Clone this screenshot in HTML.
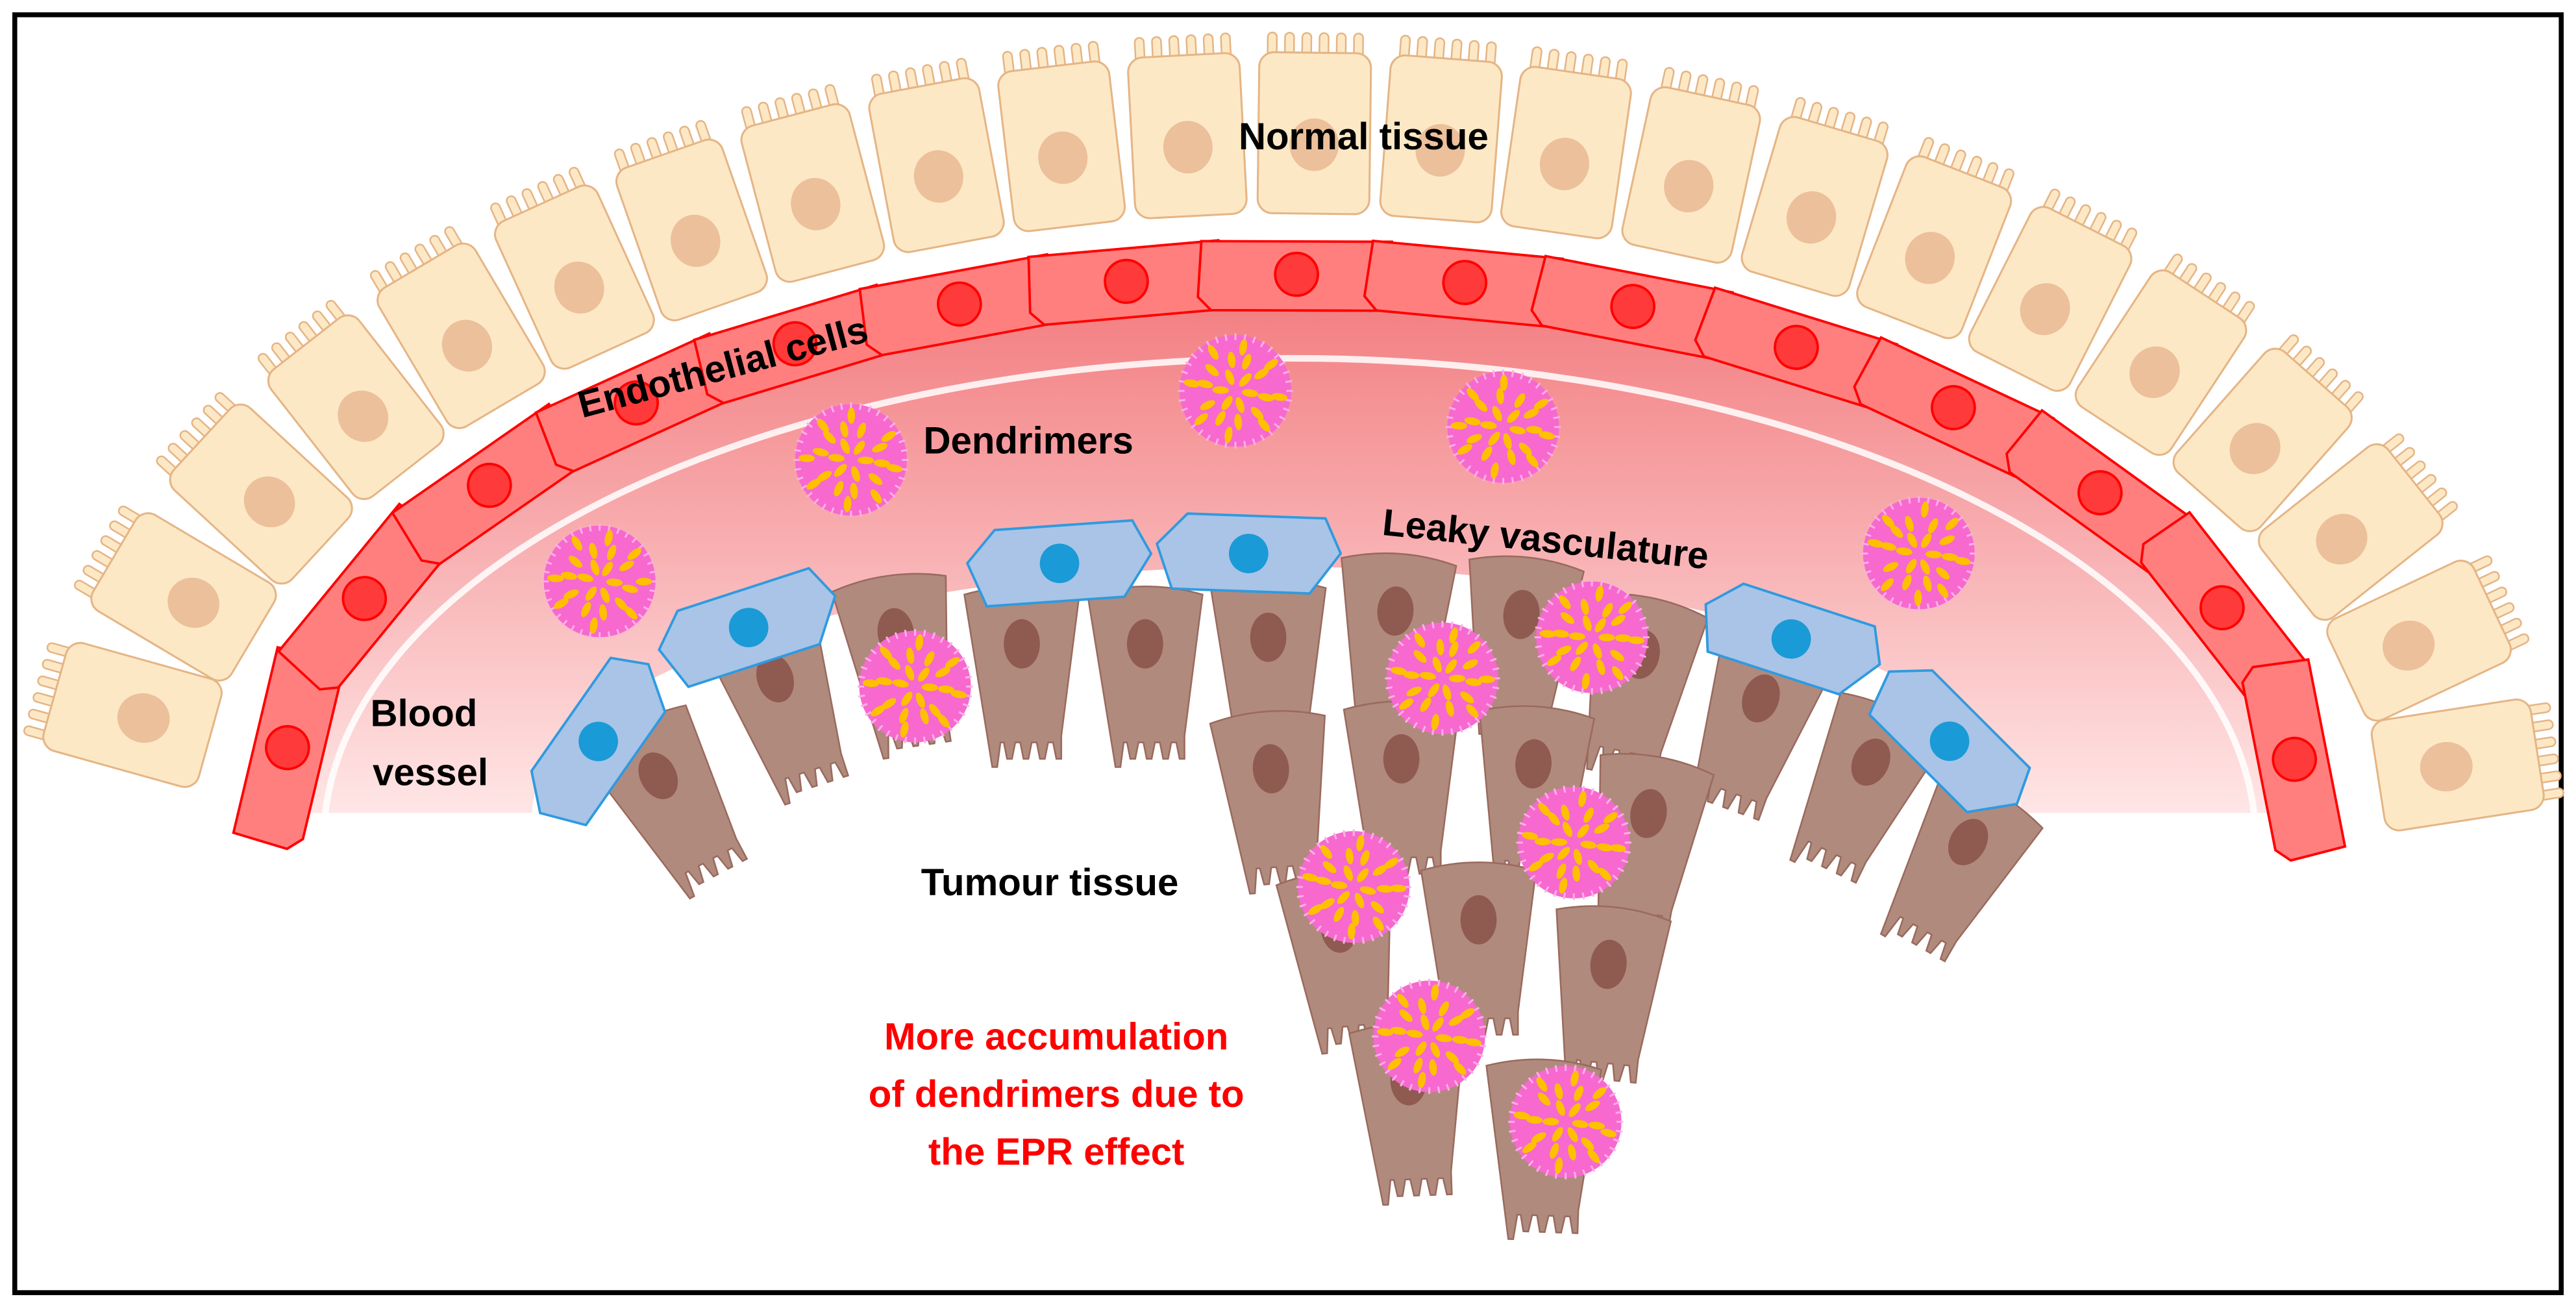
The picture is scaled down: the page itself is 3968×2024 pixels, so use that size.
<!DOCTYPE html>
<html><head><meta charset="utf-8"><style>
html,body{margin:0;padding:0;background:#fff;}
svg{display:block}
text{font-family:"Liberation Sans",sans-serif;font-weight:bold;}
</style></head><body>
<svg id="s" width="3968" height="2024" viewBox="0 0 1568 800" preserveAspectRatio="none" xmlns="http://www.w3.org/2000/svg">
<defs>
<linearGradient id="pg" gradientUnits="userSpaceOnUse" x1="0" y1="185" x2="0" y2="495">
<stop offset="0" stop-color="#f37f82"/><stop offset="0.5" stop-color="#f8b2b4"/><stop offset="1" stop-color="#ffe6e6"/>
</linearGradient>
<clipPath id="cl"><rect x="0" y="0" width="1568" height="495"/></clipPath>
</defs>
<rect x="9" y="9" width="1550" height="778" fill="#fff" stroke="#000" stroke-width="3"/>
<g clip-path="url(#cl)">
<path d="M180,495 A605,310 0 0 1 1390,495 L1230,495 A453,150 0 0 0 324,495 Z" fill="url(#pg)"/>
<path d="M198,495 A588,294 0 0 1 1372,495" fill="none" stroke="#fff" stroke-width="4" opacity="0.85"/>
</g>
<g id="normal"></g>
<g id="endo"></g>
<g id="tumour"></g>
<g id="blue"></g>
<g id="dend"></g>
<text x="830" y="91" font-size="23" text-anchor="middle">Normal tissue</text>
<text x="0" y="0" font-size="23" text-anchor="middle" transform="translate(442,231) rotate(-15)">Endothelial cells</text>
<text x="626" y="276" font-size="23" text-anchor="middle">Dendrimers</text>
<text x="0" y="0" font-size="23" text-anchor="middle" transform="translate(940,336) rotate(6)">Leaky vasculature</text>
<text x="258" y="442" font-size="23" text-anchor="middle">Blood</text>
<text x="262" y="478" font-size="23" text-anchor="middle">vessel</text>
<text x="639" y="545" font-size="23" text-anchor="middle">Tumour tissue</text>
<text x="643" y="639" font-size="23" text-anchor="middle" fill="#ff0000">More accumulation</text>
<text x="643" y="674" font-size="23" text-anchor="middle" fill="#ff0000">of dendrimers due to</text>
<text x="643" y="709" font-size="23" text-anchor="middle" fill="#ff0000">the EPR effect</text>
</svg>
<script>
function add(g,html){document.getElementById(g).insertAdjacentHTML('beforeend',html);}
function pt(cx,cy,rx,ry,t){var x=cx+rx*Math.sin(t),y=cy-ry*Math.cos(t);var nx=(x-cx)/(rx*rx),ny=(y-cy)/(ry*ry);var a=Math.atan2(nx,-ny)*180/Math.PI;return [x,y,a];}
function arcPts(cx,cy,rx,ry,t0,t1,n){var N=2000,L=[0],prev=pt(cx,cy,rx,ry,t0);for(var i=1;i<=N;i++){var p=pt(cx,cy,rx,ry,t0+(t1-t0)*i/N);L.push(L[i-1]+Math.hypot(p[0]-prev[0],p[1]-prev[1]));prev=p;}
var tot=L[N],res=[],j=0;for(var k=0;k<n;k++){var target=tot*(k+0.5)/n;while(L[j]<target)j++;res.push(pt(cx,cy,rx,ry,t0+(t1-t0)*j/N));}return res;}
// normal cells
arcPts(785,505,705,415,-1.50,1.57,23).forEach(function(p){
var vil="";for(var k=0;k<6;k++){var vx=-29+k*10.5;vil+='<rect x="'+(vx)+'" y="-70" width="5.5" height="16" rx="2.7" fill="#fde8c6" stroke="#e5b585" stroke-width="1"/>';}
add("normal",'<g transform="translate('+p[0].toFixed(1)+','+p[1].toFixed(1)+') rotate('+p[2].toFixed(1)+')">'+vil+'<rect x="-34" y="-58" width="68" height="98" rx="9" fill="#fde8c6" stroke="#e5b585" stroke-width="1.2"/><ellipse cx="0" cy="-2" rx="15" ry="16" fill="#ebc09a"/></g>');});
// endothelial
arcPts(785,497,615,330,-1.60,1.62,15).forEach(function(p){
add("endo",'<g transform="translate('+p[0].toFixed(1)+','+p[1].toFixed(1)+') rotate('+p[2].toFixed(1)+')"><path d="M-58,-20 L58,-20 L60,14 L52,22 L-52,22 L-60,14 Z" fill="#ff7f7f" stroke="#ff0000" stroke-width="1.5"/><circle cx="0" cy="0" r="13" fill="#ff3a3a" stroke="#ff0000" stroke-width="1.5"/></g>');});
// tumour cells
var tc=[[410,490,-28],[478,432,-18],[548,405,-8],[622,412,0],[697,412,0],[772,408,0],[848,392,4],[924,394,6],[995,418,12],[1065,444,20],[1130,482,26],[1188,530,30],
[775,488,-4],[853,482,0],[932,485,4],[1000,515,10],[817,585,-6],[900,580,0],[977,607,6],[858,678,-2],[938,700,2]];
tc.forEach(function(c){add("tumour",'<g transform="translate('+c[0]+','+c[1]+') rotate('+c[2]+')"><path d="M-35,-50 Q0,-60 35,-50 L24,36 L24,50 L21,50 L19,40 L16,40 L14,50 L11,50 L9,40 L6,40 L4,50 L1,50 L-1,40 L-4,40 L-6,50 L-9,50 L-11,40 L-13,40 L-15,55 L-18,55 Z" fill="#b08a7d" stroke="#9a6a5e" stroke-width="1"/><ellipse cx="0" cy="-20" rx="11" ry="15" fill="#8f5a50"/></g>');});
// blue cells
var bc=[[365,452,-55],[456,383,-18],[645,344,-4],[760,338,2],[1090,390,18],[1186,452,45]];
bc.forEach(function(c){add("blue",'<g transform="translate('+c[0]+','+c[1]+') rotate('+c[2]+')"><path d="M-56,-5 L-38,-24 L46,-24 L56,-3 L38,22 L-46,22 Z" fill="#a9c4e6" stroke="#2f9ae0" stroke-width="1.5"/><circle cx="0" cy="-1" r="12" fill="#1a9ad6"/></g>');});
// dendrimers
var dd=[[365,354],[518,280],[752,238],[915,260],[1168,337],[557,418],[878,413],[969,388],[958,513],[824,540],[870,631],[953,683]];
var seed=1;function rnd(){seed=(seed*9301+49297)%233280;return seed/233280;}
dd.forEach(function(c){var s='<g transform="translate('+c[0]+','+c[1]+')"><circle r="34" fill="#f769cf"/>';
for(var k=0;k<36;k++){var a=k*10*Math.PI/180;s+='<line x1="'+(31*Math.cos(a)).toFixed(1)+'" y1="'+(31*Math.sin(a)).toFixed(1)+'" x2="'+(35*Math.cos(a)).toFixed(1)+'" y2="'+(35*Math.sin(a)).toFixed(1)+'" stroke="#fbb0e6" stroke-width="1.2"/>';}
var rings=[[9,6],[19,10],[27,8]];rings.forEach(function(r){for(var k=0;k<r[1];k++){var a=(k/r[1])*360+rnd()*15;var rad=a*Math.PI/180;var x=(r[0]*Math.cos(rad)).toFixed(1),y=(r[0]*Math.sin(rad)).toFixed(1);s+='<ellipse cx="'+x+'" cy="'+y+'" rx="2.3" ry="5" fill="#ffc000" transform="rotate('+(a+90).toFixed(0)+','+x+','+y+')"/>';}});
s+='</g>';add("dend",s);});
</script>
</body></html>
